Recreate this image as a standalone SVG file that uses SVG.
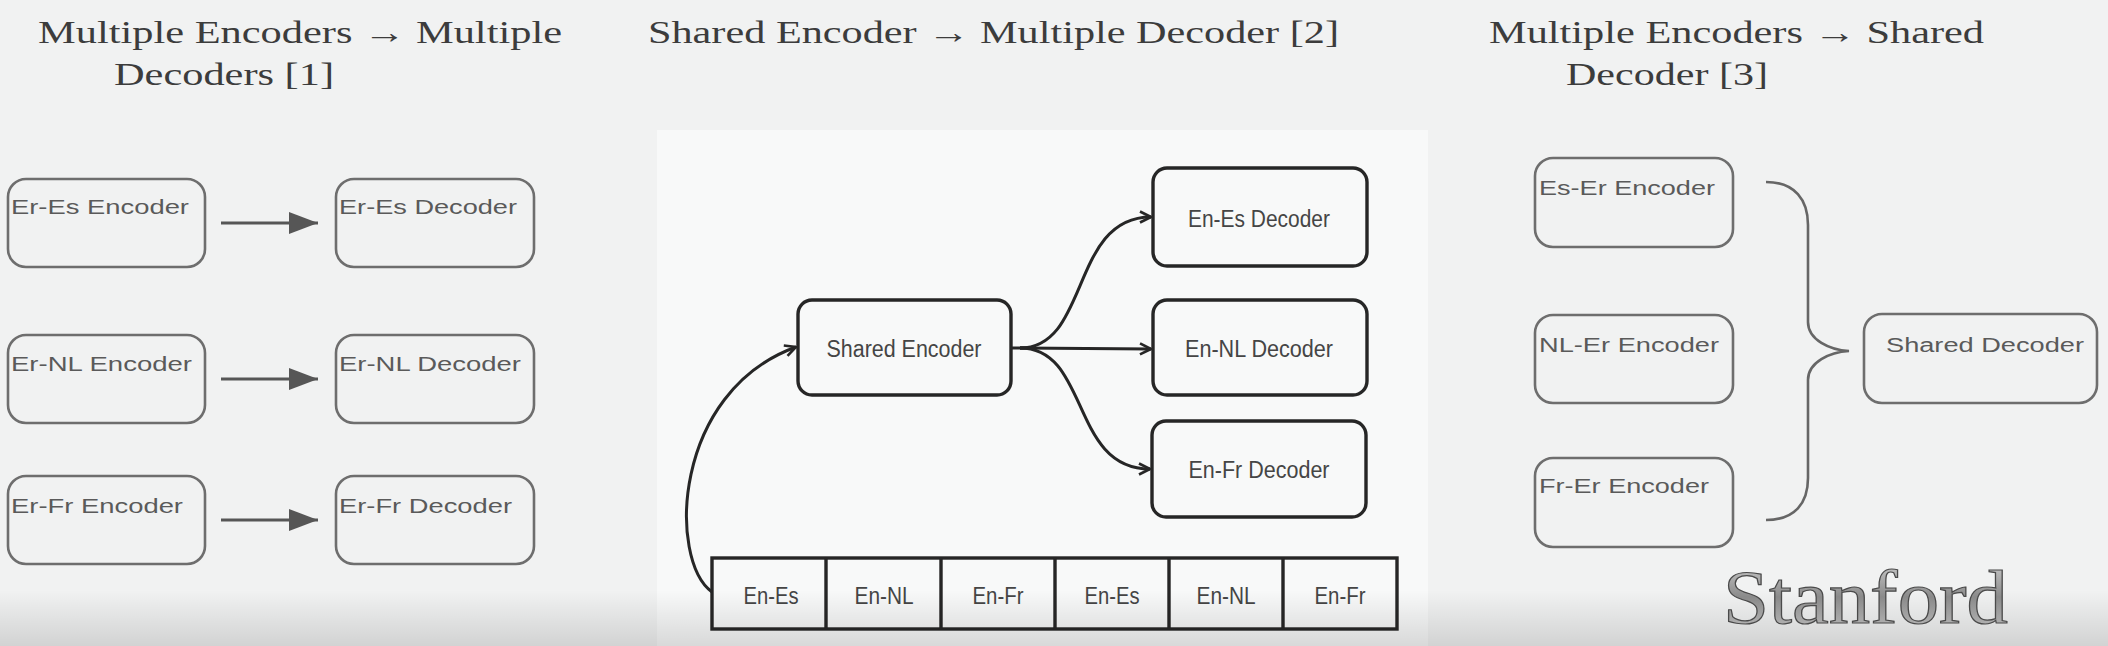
<svg xmlns="http://www.w3.org/2000/svg" width="2108" height="646" viewBox="0 0 2108 646">
<defs>
<style>
.title{font-family:"Liberation Serif","Times New Roman",serif;font-size:32px;fill:#3c3c3c}
.t1{font-family:"Liberation Sans",Arial,sans-serif;font-size:20px;fill:#5a5a5a}
.t2{font-family:"Liberation Sans",Arial,sans-serif;font-size:23px;fill:#454545}
.b1{fill:none;stroke:#6e6e6e;stroke-width:2.6}
.b2{fill:none;stroke:#262626;stroke-width:3.4}
.c1{stroke:#565656;stroke-width:3;fill:none}
.c2{stroke:#262626;stroke-width:3;fill:none}
</style>
<marker id="tri" viewBox="0 0 29 22" refX="29" refY="11" markerWidth="29" markerHeight="22" markerUnits="userSpaceOnUse" orient="auto">
<path d="M0,0 L29,11 L0,22 z" fill="#565656"/>
</marker>
<marker id="chev" viewBox="0 0 14 14" refX="13" refY="7" markerWidth="14" markerHeight="14" markerUnits="userSpaceOnUse" orient="auto">
<path d="M2,1.5 L13,7 L2,12.5" fill="none" stroke="#262626" stroke-width="2.6"/>
</marker>
<linearGradient id="shade" x1="0" y1="0" x2="0" y2="1">
<stop offset="0" stop-color="#000" stop-opacity="0"/>
<stop offset="1" stop-color="#000" stop-opacity="0.13"/>
</linearGradient>
<linearGradient id="metal" x1="0" y1="0" x2="0" y2="1">
<stop offset="0" stop-color="#d8d8d8"/>
<stop offset="0.5" stop-color="#8a8a8a"/>
<stop offset="1" stop-color="#c4c4c4"/>
</linearGradient>
</defs>
<rect width="2108" height="646" fill="#f1f2f2"/>
<rect x="657" y="130" width="771" height="516" fill="#f8f9f9"/>

<g id="titles">
<text class="title" x="38" y="43" textLength="524" lengthAdjust="spacingAndGlyphs">Multiple Encoders → Multiple</text>
<text class="title" x="114" y="85" textLength="220" lengthAdjust="spacingAndGlyphs">Decoders [1]</text>
<text class="title" x="648" y="43" textLength="691" lengthAdjust="spacingAndGlyphs">Shared Encoder → Multiple Decoder [2]</text>
<text class="title" x="1489" y="43" textLength="495" lengthAdjust="spacingAndGlyphs">Multiple Encoders → Shared</text>
<text class="title" x="1566" y="85" textLength="202" lengthAdjust="spacingAndGlyphs">Decoder [3]</text>
</g>

<g id="er-es-encoder"><rect class="b1" x="8" y="179" width="197" height="88" rx="18"/><text class="t1" x="11" y="214" textLength="178" lengthAdjust="spacingAndGlyphs">Er-Es Encoder</text></g>
<g id="er-nl-encoder"><rect class="b1" x="8" y="335" width="197" height="88" rx="18"/><text class="t1" x="11" y="371" textLength="181" lengthAdjust="spacingAndGlyphs">Er-NL Encoder</text></g>
<g id="er-fr-encoder"><rect class="b1" x="8" y="476" width="197" height="88" rx="18"/><text class="t1" x="11" y="513" textLength="172" lengthAdjust="spacingAndGlyphs">Er-Fr Encoder</text></g>
<g id="er-es-decoder"><rect class="b1" x="336" y="179" width="198" height="88" rx="18"/><text class="t1" x="339" y="214" textLength="178" lengthAdjust="spacingAndGlyphs">Er-Es Decoder</text></g>
<g id="er-nl-decoder"><rect class="b1" x="336" y="335" width="198" height="88" rx="18"/><text class="t1" x="339" y="371" textLength="182" lengthAdjust="spacingAndGlyphs">Er-NL Decoder</text></g>
<g id="er-fr-decoder"><rect class="b1" x="336" y="476" width="198" height="88" rx="18"/><text class="t1" x="339" y="513" textLength="173" lengthAdjust="spacingAndGlyphs">Er-Fr Decoder</text></g>

<g id="shared-encoder"><rect class="b2" x="798" y="300" width="213" height="95" rx="14"/><text class="t2" x="904" y="357" text-anchor="middle" textLength="155" lengthAdjust="spacingAndGlyphs">Shared Encoder</text></g>
<g id="en-es-decoder"><rect class="b2" x="1153" y="168" width="214" height="98" rx="14"/><text class="t2" x="1259" y="227" text-anchor="middle" textLength="142" lengthAdjust="spacingAndGlyphs">En-Es Decoder</text></g>
<g id="en-nl-decoder"><rect class="b2" x="1153" y="300" width="214" height="95" rx="14"/><text class="t2" x="1259" y="357" text-anchor="middle" textLength="148" lengthAdjust="spacingAndGlyphs">En-NL Decoder</text></g>
<g id="en-fr-decoder"><rect class="b2" x="1152" y="421" width="214" height="96" rx="14"/><text class="t2" x="1259" y="478" text-anchor="middle" textLength="141" lengthAdjust="spacingAndGlyphs">En-Fr Decoder</text></g>

<g id="data-strip">
<rect class="b2" x="712" y="558" width="685" height="71"/>
<path class="b2" d="M826,558 V629 M941,558 V629 M1055,558 V629 M1169,558 V629 M1283,558 V629"/>
<text class="t2" x="771" y="604" text-anchor="middle" textLength="55" lengthAdjust="spacingAndGlyphs">En-Es</text>
<text class="t2" x="884" y="604" text-anchor="middle" textLength="59" lengthAdjust="spacingAndGlyphs">En-NL</text>
<text class="t2" x="998" y="604" text-anchor="middle" textLength="51" lengthAdjust="spacingAndGlyphs">En-Fr</text>
<text class="t2" x="1112" y="604" text-anchor="middle" textLength="55" lengthAdjust="spacingAndGlyphs">En-Es</text>
<text class="t2" x="1226" y="604" text-anchor="middle" textLength="59" lengthAdjust="spacingAndGlyphs">En-NL</text>
<text class="t2" x="1340" y="604" text-anchor="middle" textLength="51" lengthAdjust="spacingAndGlyphs">En-Fr</text>
</g>

<g id="es-er-encoder"><rect class="b1" x="1535" y="158" width="198" height="89" rx="18"/><text class="t1" x="1539" y="195" textLength="176" lengthAdjust="spacingAndGlyphs">Es-Er Encoder</text></g>
<g id="nl-er-encoder"><rect class="b1" x="1535" y="315" width="198" height="88" rx="18"/><text class="t1" x="1539" y="352" textLength="180" lengthAdjust="spacingAndGlyphs">NL-Er Encoder</text></g>
<g id="fr-er-encoder"><rect class="b1" x="1535" y="458" width="198" height="89" rx="18"/><text class="t1" x="1539" y="493" textLength="170" lengthAdjust="spacingAndGlyphs">Fr-Er Encoder</text></g>
<g id="shared-decoder"><rect class="b1" x="1864" y="314" width="233" height="89" rx="18"/><text class="t1" x="1886" y="352" textLength="198" lengthAdjust="spacingAndGlyphs">Shared Decoder</text></g>

<g id="connectors">
<path class="c1" d="M221,223 H318" marker-end="url(#tri)"/>
<path class="c1" d="M221,379 H318" marker-end="url(#tri)"/>
<path class="c1" d="M221,520 H318" marker-end="url(#tri)"/>
<path class="c2" d="M1011,348 H1030"/>
<path class="c2" d="M1020,348 C1090,348 1070,217 1151,217" marker-end="url(#chev)"/>
<path class="c2" d="M1020,348 L1151,349" marker-end="url(#chev)"/>
<path class="c2" d="M1020,348 C1090,348 1070,469 1150,469" marker-end="url(#chev)"/>
<path class="c2" d="M712,592 C668,560 672,392 796,347" marker-end="url(#chev)"/>
<path d="M1766,182 C1795,182 1808,200 1808,225 L1808,322 C1808,340 1830,350 1849,351 C1830,352 1808,362 1808,380 L1808,478 C1808,503 1795,520 1766,520" fill="none" stroke="#666" stroke-width="2.6"/>
</g>

<rect x="0" y="590" width="2108" height="56" fill="url(#shade)"/>
<g id="stanford-logo">
<text x="1723" y="623" font-family="'Liberation Serif','Times New Roman',serif" font-size="77" textLength="285" lengthAdjust="spacingAndGlyphs" fill="url(#metal)" stroke="#4a4a4a" stroke-width="1.2">Stanford</text>
</g>
</svg>
